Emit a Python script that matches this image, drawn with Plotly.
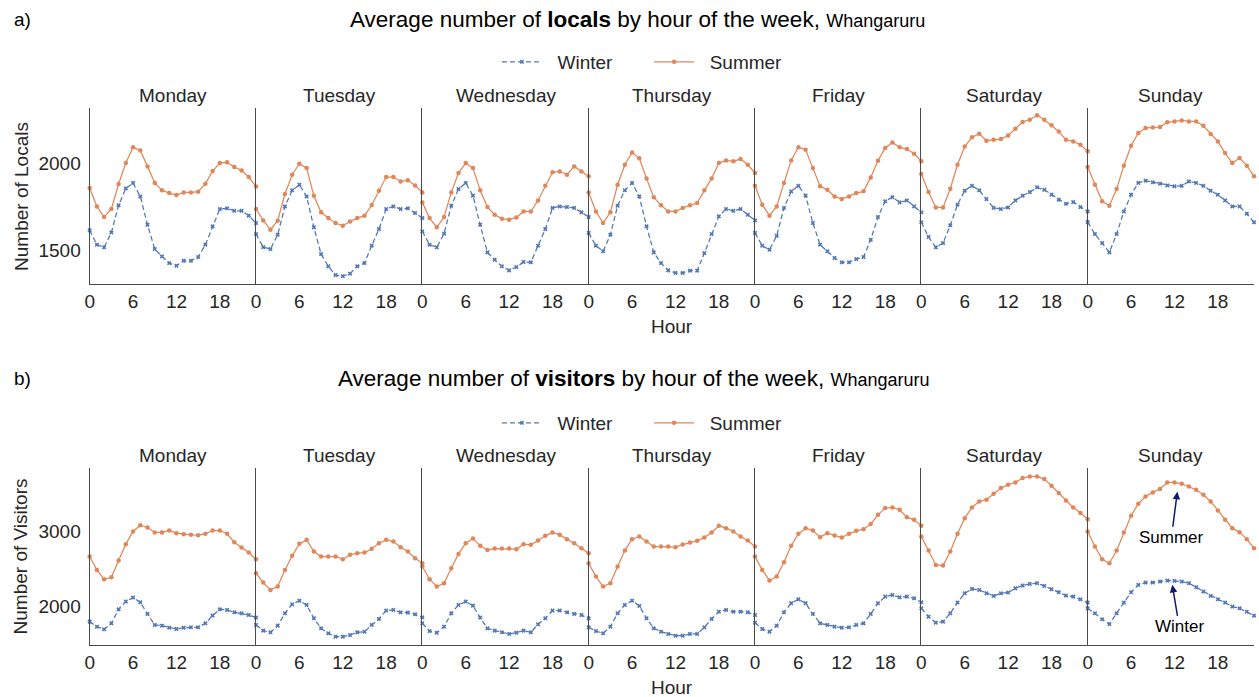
import plotly.graph_objects as go

HOURS = list(range(24))
DAYS = ["Monday", "Tuesday", "Wednesday", "Thursday", "Friday", "Saturday", "Sunday"]
X_TICKS = [0, 6, 12, 18]
LOCALS_Y_TICKS = [1500, 2000]
VISITORS_Y_TICKS = [2000, 3000]

# ---- Locals, Winter ----
LOC_WIN_MON = [1615,1533,1518,1603,1758,1855,1886,1809,1647,1508,1466,1428,1413,1441,1441,1462,1533,1638,1737,1741,1727,1727,1699,1657]
LOC_WIN_TUE = [1594,1519,1508,1590,1752,1844,1876,1809,1632,1479,1409,1359,1353,1367,1409,1428,1527,1622,1737,1752,1737,1741,1714,1685]
LOC_WIN_WED = [1609,1533,1518,1596,1756,1851,1886,1813,1647,1489,1447,1409,1386,1405,1434,1432,1527,1622,1743,1752,1748,1743,1718,1691]
LOC_WIN_THU = [1600,1527,1495,1590,1756,1844,1886,1809,1638,1489,1428,1386,1371,1371,1384,1384,1485,1594,1695,1737,1727,1737,1704,1672]
LOC_WIN_FRI = [1600,1527,1504,1584,1743,1838,1870,1813,1657,1533,1495,1457,1432,1432,1451,1462,1561,1691,1781,1805,1775,1786,1752,1718]
LOC_WIN_SAT = [1661,1577,1518,1542,1644,1762,1842,1870,1844,1794,1744,1737,1746,1786,1813,1834,1861,1847,1819,1790,1767,1777,1748,1723]
LOC_WIN_SUN = [1662,1594,1542,1489,1594,1723,1819,1886,1899,1890,1882,1872,1867,1870,1895,1886,1870,1842,1819,1786,1752,1752,1710,1661]

# ---- Locals, Summer ----
LOC_SUM_MON = [1857,1752,1691,1737,1880,2000,2090,2072,1981,1886,1844,1828,1817,1832,1832,1836,1882,1954,2000,2004,1977,1958,1920,1866]
LOC_SUM_TUE = [1737,1672,1619,1670,1823,1933,1996,1971,1813,1718,1685,1657,1641,1666,1685,1699,1760,1842,1920,1920,1895,1901,1872,1832]
LOC_SUM_WED = [1775,1685,1632,1691,1832,1943,2000,1971,1844,1748,1704,1682,1676,1689,1723,1723,1786,1870,1947,1952,1933,1981,1952,1924]
LOC_SUM_THU = [1832,1723,1657,1718,1876,1990,2061,2027,1912,1805,1758,1723,1723,1743,1758,1771,1844,1912,2000,2015,2010,2023,1990,1943]
LOC_SUM_FRI = [1870,1762,1699,1752,1886,2015,2090,2076,1971,1867,1847,1809,1794,1809,1828,1838,1918,2013,2086,2118,2090,2080,2053,2010]
LOC_SUM_SAT = [1937,1834,1746,1746,1853,1990,2095,2147,2168,2128,2133,2137,2158,2196,2235,2248,2273,2248,2216,2181,2133,2124,2105,2067]
LOC_SUM_SUN = [1977,1876,1781,1756,1851,1985,2099,2172,2200,2204,2206,2233,2238,2244,2238,2238,2213,2166,2124,2057,2000,2029,1985,1924]

# ---- Visitors, Winter ----
VIS_WIN_MON = [1789,1721,1686,1766,1955,2058,2112,2049,1892,1744,1735,1708,1690,1708,1712,1712,1766,1870,1955,1946,1914,1901,1878,1843]
VIS_WIN_TUE = [1744,1668,1645,1735,1901,2022,2071,2013,1834,1699,1632,1587,1587,1609,1645,1654,1744,1825,1937,1946,1914,1910,1887,1847]
VIS_WIN_WED = [1766,1663,1641,1721,1901,2013,2058,2004,1843,1699,1668,1645,1623,1641,1668,1645,1753,1834,1937,1937,1914,1892,1878,1834]
VIS_WIN_THU = [1713,1663,1632,1721,1901,2013,2071,2000,1834,1699,1654,1623,1600,1600,1623,1623,1713,1825,1923,1946,1923,1923,1914,1878]
VIS_WIN_FRI = [1775,1690,1654,1735,1914,2036,2089,2036,1892,1766,1744,1721,1708,1713,1744,1766,1892,2036,2125,2148,2116,2125,2103,2049]
VIS_WIN_SAT = [1968,1856,1775,1789,1901,2045,2170,2228,2215,2170,2134,2170,2179,2237,2273,2296,2305,2269,2224,2184,2139,2125,2089,2045]
VIS_WIN_SUN = [1968,1901,1820,1757,1901,2045,2184,2282,2314,2314,2327,2341,2336,2327,2305,2251,2193,2134,2089,2045,1991,1968,1923,1869]

# ---- Visitors, Summer ----
VIS_SUM_MON = [2664,2484,2358,2385,2610,2830,3000,3085,3054,2987,2987,3013,2978,2964,2955,2950,2969,3013,3013,2969,2856,2785,2717,2628]
VIS_SUM_TUE = [2439,2314,2215,2260,2484,2673,2834,2888,2731,2664,2664,2664,2628,2686,2708,2717,2767,2843,2888,2865,2789,2731,2641,2574]
VIS_SUM_WED = [2529,2359,2260,2305,2507,2699,2843,2906,2807,2753,2771,2771,2771,2762,2830,2821,2879,2942,2987,2955,2897,2843,2776,2708]
VIS_SUM_THU = [2574,2394,2260,2305,2529,2744,2897,2933,2865,2798,2798,2798,2789,2825,2852,2874,2919,2987,3076,3045,3000,2933,2879,2798]
VIS_SUM_FRI = [2664,2484,2341,2394,2587,2807,2969,3045,3013,2924,2978,2946,2919,2969,3009,3031,3099,3224,3314,3323,3292,3193,3157,3076]
VIS_SUM_SAT = [2933,2744,2551,2542,2731,2969,3179,3323,3404,3426,3507,3583,3628,3659,3718,3740,3740,3704,3615,3516,3417,3323,3247,3166]
VIS_SUM_SUN = [3000,2798,2628,2574,2744,2987,3211,3373,3471,3525,3570,3659,3659,3641,3606,3561,3493,3404,3283,3157,3045,2991,2897,2776]

LOCALS_WINTER = [LOC_WIN_MON, LOC_WIN_TUE, LOC_WIN_WED, LOC_WIN_THU, LOC_WIN_FRI, LOC_WIN_SAT, LOC_WIN_SUN]
LOCALS_SUMMER = [LOC_SUM_MON, LOC_SUM_TUE, LOC_SUM_WED, LOC_SUM_THU, LOC_SUM_FRI, LOC_SUM_SAT, LOC_SUM_SUN]
VISITORS_WINTER = [VIS_WIN_MON, VIS_WIN_TUE, VIS_WIN_WED, VIS_WIN_THU, VIS_WIN_FRI, VIS_WIN_SAT, VIS_WIN_SUN]
VISITORS_SUMMER = [VIS_SUM_MON, VIS_SUM_TUE, VIS_SUM_WED, VIS_SUM_THU, VIS_SUM_FRI, VIS_SUM_SAT, VIS_SUM_SUN]

# ---- styling ----
W, H = 1259, 697
FONT = "Liberation Sans, Arial, Helvetica, sans-serif"
TXT = "#262626"
AXC = "#4a4a4a"
BLUE = "#5277b5"
ORANGE = "#e0875a"
NB = "\u00a0"

PANEL_LEFT = 85
PANEL_W = 167
ROWS = [
    dict(top=108, bottom=284, yrange=[1308, 2315], yticks=LOCALS_Y_TICKS,
         winter=LOCALS_WINTER, summer=LOCALS_SUMMER, legend="legend",
         ytitle="Number of Locals"),
    dict(top=468, bottom=645, yrange=[1475, 3853], yticks=VISITORS_Y_TICKS,
         winter=VISITORS_WINTER, summer=VISITORS_SUMMER, legend="legend2",
         ytitle="Number of Visitors"),
]

def px_x(p):
    return p / W

def px_y(p):
    return 1 - p / H

fig = go.Figure()
layout = {}
annotations = []

for r, row in enumerate(ROWS):
    for i, day in enumerate(DAYS):
        k = r * 7 + i + 1
        xa = "x" if k == 1 else f"x{k}"
        ya = "y" if k == 1 else f"y{k}"
        fig.add_trace(go.Scatter(
            x=HOURS, y=row["winter"][i], xaxis=xa, yaxis=ya,
            mode="lines+markers", name=NB * 2 + "Winter" + NB * 6,
            line=dict(color=BLUE, width=1.25, dash="5px,3px"),
            marker=dict(symbol="x", size=4, color=BLUE, line=dict(width=0)),
            legend=row["legend"], showlegend=(i == 0), cliponaxis=False,
            legendrank=1,
        ))
        fig.add_trace(go.Scatter(
            x=HOURS, y=row["summer"][i], xaxis=xa, yaxis=ya,
            mode="lines+markers", name=NB * 2 + "Summer",
            line=dict(color=ORANGE, width=1.25),
            marker=dict(symbol="circle", size=4.5, color=ORANGE),
            legend=row["legend"], showlegend=(i == 0), cliponaxis=False,
            legendrank=2,
        ))
        x0 = PANEL_LEFT + PANEL_W * i
        x1 = x0 + PANEL_W
        layout["xaxis" if k == 1 else f"xaxis{k}"] = dict(
            domain=[px_x(x0), px_x(x1)], range=[0, 23], anchor=ya,
            tickvals=X_TICKS, ticks="", showgrid=False, zeroline=False,
            showline=True, linecolor=AXC, linewidth=1.2,
            tickfont=dict(family=FONT, size=19, color=TXT),
        )
        layout["yaxis" if k == 1 else f"yaxis{k}"] = dict(
            domain=[px_y(row["bottom"]), px_y(row["top"])], range=row["yrange"],
            anchor=xa, tickvals=row["yticks"], ticks="", showgrid=False,
            zeroline=False, showline=True, linecolor=AXC, linewidth=1.2,
            showticklabels=(i == 0), ticklabelstandoff=4,
            tickfont=dict(family=FONT, size=19, color=TXT),
        )
        annotations.append(dict(
            text=day, x=px_x(x0 + PANEL_W / 2), y=px_y(row["top"] - 12),
            xref="paper", yref="paper", showarrow=False, xanchor="center",
            yanchor="middle", font=dict(family=FONT, size=19, color=TXT),
        ))
    # x-axis title
    annotations.append(dict(
        text="Hour", x=px_x(PANEL_LEFT + PANEL_W * 3.5), y=px_y(row["bottom"] + 42),
        xref="paper", yref="paper", showarrow=False, xanchor="center",
        yanchor="middle", font=dict(family=FONT, size=19, color=TXT),
    ))
    # y-axis title
    annotations.append(dict(
        text=row["ytitle"], x=px_x(16), y=px_y((row["top"] + row["bottom"]) / 2),
        xref="paper", yref="paper", showarrow=False, xanchor="center",
        yanchor="middle", textangle=-90, font=dict(family=FONT, size=19, color=TXT),
    ))

# panel letters and titles
annotations.append(dict(text="a)", x=px_x(7), y=px_y(20), xref="paper", yref="paper",
                        showarrow=False, xanchor="left", yanchor="middle",
                        font=dict(family=FONT, size=19, color="black")))
annotations.append(dict(text="b)", x=px_x(7), y=px_y(378), xref="paper", yref="paper",
                        showarrow=False, xanchor="left", yanchor="middle",
                        font=dict(family=FONT, size=19, color="black")))
annotations.append(dict(
    text="Average number of <b>locals</b> by hour of the week, <span style='font-size:18px'>Whangaruru</span>",
    x=px_x(635), y=px_y(20), xref="paper", yref="paper", showarrow=False,
    xanchor="center", yanchor="middle", font=dict(family=FONT, size=22.5, color="black")))
annotations.append(dict(
    text="Average number of <b>visitors</b> by hour of the week, <span style='font-size:18px'>Whangaruru</span>",
    x=px_x(631), y=px_y(378), xref="paper", yref="paper", showarrow=False,
    xanchor="center", yanchor="middle", font=dict(family=FONT, size=22.5, color="black")))

# callouts in the Sunday visitors panel
annotations.append(dict(
    text="Summer", x=12.4, y=3534, xref="x14", yref="y14", ax=-6, ay=46,
    showarrow=True, arrowhead=2, arrowsize=1, arrowwidth=1.5, arrowcolor="#0d1b6e",
    font=dict(family=FONT, size=17, color="black"),
))
annotations.append(dict(
    text="Winter", x=11.7, y=2283, xref="x14", yref="y14", ax=7, ay=42,
    showarrow=True, arrowhead=2, arrowsize=1, arrowwidth=1.5, arrowcolor="#0d1b6e",
    font=dict(family=FONT, size=17, color="black"),
))

legend_common = dict(orientation="h", xanchor="center", yanchor="middle",
                     font=dict(family=FONT, size=19, color=TXT),
                     bgcolor="rgba(0,0,0,0)", itemwidth=40, traceorder="normal")

fig.update_layout(
    width=W, height=H, autosize=False,
    margin=dict(l=0, r=0, t=0, b=0),
    paper_bgcolor="white", plot_bgcolor="white",
    font=dict(family=FONT, color=TXT),
    annotations=annotations,
    legend=dict(x=px_x(640), y=px_y(62), **legend_common),
    legend2=dict(x=px_x(640), y=px_y(423), **legend_common),
    **layout,
)

fig.write_html(
    "out.html",
    config={"displayModeBar": False},
    post_script="document.body.style.margin='0';document.body.style.overflow='hidden';",
)
